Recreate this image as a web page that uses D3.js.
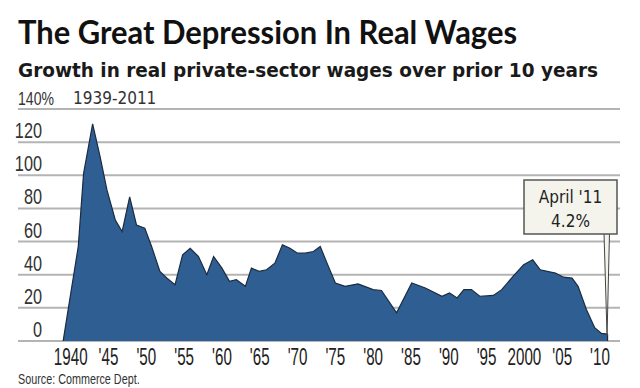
<!DOCTYPE html>
<html>
<head>
<meta charset="utf-8">
<script src="https://cdn.jsdelivr.net/npm/d3@7"></script>
<style>
  body { margin: 0; background: #fff; }
  svg { display: block; }
</style>
</head>
<body>
<div id="chart"></div>
<script>
// data (fractional years where the curve turns)
var years = [1939.0, 1939.7, 1941.0, 1941.7, 1942.9, 1943.9, 1944.8, 1945.9, 1946.8, 1947.8,
  1948.7, 1949.8, 1950.7, 1951.8, 1952.7, 1953.8, 1954.8, 1955.8, 1956.9, 1958.0,
  1958.9, 1960.0, 1961.0, 1961.9, 1963.1, 1963.9, 1964.9, 1965.9, 1967.0, 1968.0,
  1969.0, 1970.0, 1971.0, 1972.1, 1973.0, 1973.9, 1975.0, 1976.3, 1978.0, 1980.0,
  1981.1, 1983.1, 1985.1, 1986.9, 1989.1, 1990.1, 1991.1, 1992.0, 1993.0, 1994.1,
  1995.9, 1997.0, 1998.5, 1999.9, 2001.1, 2002.1, 2004.1, 2005.2, 2006.3, 2007.1,
  2008.2, 2009.3, 2010.2, 2011.0];
var wages = [0, 20, 57, 101, 131, 111, 91, 73, 66, 87,
  70, 68, 57, 42, 38, 34, 52, 56, 51, 40,
  51, 44, 36, 37, 33, 44, 42, 43, 47, 58,
  56, 53, 53, 54, 57, 47, 35, 33, 34.5, 31,
  30.5, 17, 35, 32, 27, 29, 26, 31, 31, 27,
  27.5, 31, 39, 46, 49, 43, 41, 38.5, 38, 33,
  19, 8, 4.6, 4.2];
var yTicks = [0, 20, 40, 60, 80, 100, 120, 140];
var xTicks = [1940, 1945, 1950, 1955, 1960, 1965, 1970, 1975, 1980, 1985, 1990, 1995, 2000, 2005, 2010];
var xTickLabels = ["1940", "'45", "'50", "'55", "'60", "'65", "'70", "'75", "'80", "'85", "'90", "'95", "2000", "'05", "'10"];
var lastLabel = ["April '11", "4.2%"];

var W = 640, H = 388;
var svg = d3.select("#chart").append("svg").attr("width", W).attr("height", H);

var x = d3.scaleLinear().domain([1940, 2010]).range([70.7, 600]);
var y = d3.scaleLinear().domain([0, 140]).range([341, 109]);

var narrow = "'Liberation Sans Narrow', 'Arial Narrow', sans-serif";

// title block
svg.append("text").attr("x", 18).attr("y", 44)
  .attr("textLength", 499).attr("lengthAdjust", "spacingAndGlyphs")
  .style("font-family", "Lato, sans-serif").style("font-weight", "bold")
  .style("font-size", "32px").style("fill", "#111")
  .text("The Great Depression In Real Wages");
svg.append("text").attr("x", 18).attr("y", 77)
  .attr("textLength", 580).attr("lengthAdjust", "spacingAndGlyphs")
  .style("font-family", "'DejaVu Sans Condensed', sans-serif").style("font-weight", "bold")
  .style("font-size", "20px").style("fill", "#1a1a1a")
  .text("Growth in real private-sector wages over prior 10 years");
svg.append("text").attr("transform", "translate(73,104)")
  .style("font-family", "'DejaVu Sans Condensed', sans-serif")
  .style("font-size", "17px").style("fill", "#333")
  .text("1939-2011");

// gridlines
svg.append("g").selectAll("line").data(yTicks).join("line")
  .attr("x1", 18).attr("x2", 620)
  .attr("y1", function(d) { return y(d); }).attr("y2", function(d) { return y(d); })
  .attr("stroke", "#b4b4b4").attr("stroke-width", 2);

// y labels
svg.append("g").selectAll("text").data(yTicks).join("text")
  .attr("transform", function(d) { return "translate(" + (d === 140 ? 18 : 42) + "," + (y(d) - 4) + ") scale(0.74,1)"; })
  .attr("text-anchor", function(d) { return d === 140 ? "start" : "end"; })
  .style("font-family", narrow).style("font-size", function(d) { return d === 140 ? "19px" : "22px"; })
  .style("fill", "#333")
  .text(function(d) { return d === 140 ? "140%" : d; });

// area
var pts = years.map(function(d, i) { return [d, wages[i]]; });
var area = d3.area()
  .x(function(d) { return x(d[0]); })
  .y0(y(0))
  .y1(function(d) { return y(d[1]); });
var line = d3.line()
  .x(function(d) { return x(d[0]); })
  .y(function(d) { return y(d[1]); });

svg.append("path").datum(pts).attr("d", area).attr("fill", "#2f5e92");
svg.append("path").datum(pts).attr("d", line)
  .attr("fill", "none").attr("stroke", "#1b2c40").attr("stroke-width", 1.2);
svg.append("line")
  .attr("x1", x(years[years.length - 1])).attr("x2", x(years[years.length - 1]))
  .attr("y1", y(wages[wages.length - 1])).attr("y2", y(0))
  .attr("stroke", "#1b2c40").attr("stroke-width", 1.2);

// x labels
svg.append("g").selectAll("text").data(xTicks).join("text")
  .attr("transform", function(d) { return "translate(" + x(d) + ",365) scale(0.66,1)"; })
  .attr("text-anchor", "middle")
  .style("font-family", narrow).style("font-size", "23px").style("fill", "#222")
  .text(function(d, i) { return xTickLabels[i]; });

// source
svg.append("text").attr("transform", "translate(18,384) scale(0.72,1)")
  .style("font-family", narrow).style("font-size", "15px").style("fill", "#333")
  .text("Source: Commerce Dept.");

// callout
var tipX = x(years[years.length - 1]) - 0.5, tipY = y(wages[wages.length - 1]) + 2;
svg.append("path")
  .attr("d", "M604,233 L" + tipX + "," + tipY + " L609.5,233 Z")
  .attr("fill", "#f4f4ec").attr("stroke", "#444").attr("stroke-width", 1);
svg.append("rect").attr("x", 524).attr("y", 180).attr("width", 93).attr("height", 54)
  .attr("fill", "#f4f4ec").attr("stroke", "#555").attr("stroke-width", 1.5);
svg.append("g").selectAll("text").data(lastLabel).join("text")
  .attr("x", 570.5).attr("y", function(d, i) { return 203 + i * 24; })
  .attr("text-anchor", "middle")
  .style("font-family", "'DejaVu Sans Condensed', sans-serif")
  .style("font-size", "17px").style("fill", "#222")
  .text(function(d) { return d; });
</script>
</body>
</html>
